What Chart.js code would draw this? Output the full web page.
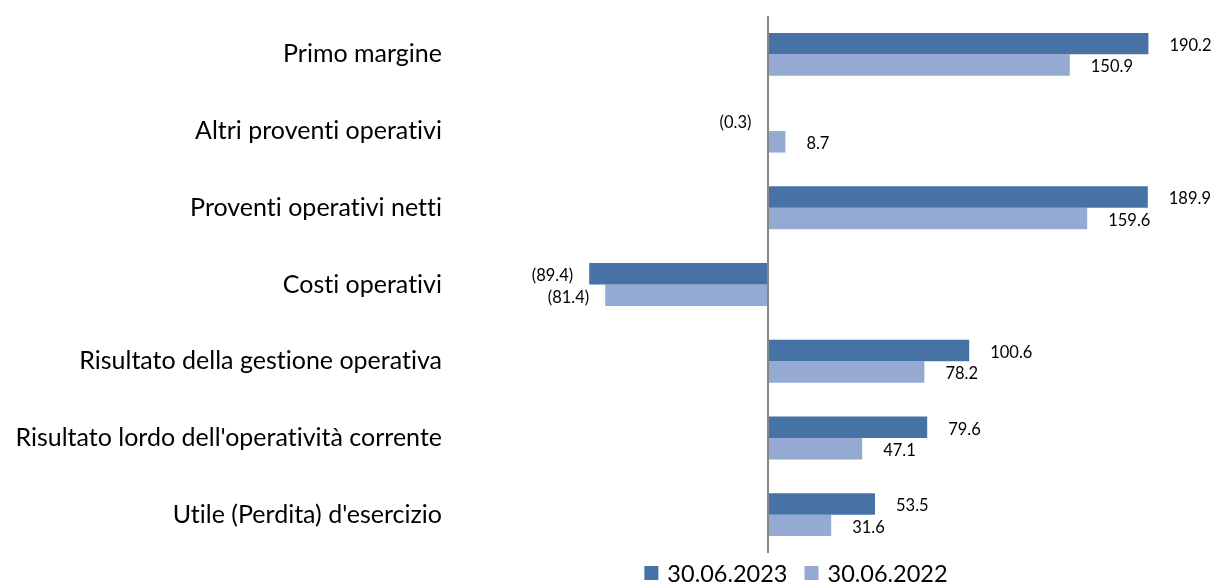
<!DOCTYPE html>
<html>
<head>
<meta charset="utf-8">
<script src="https://cdn.jsdelivr.net/npm/chart.js@4.4.1/dist/chart.umd.min.js"></script>
<style>
  html, body { margin: 0; padding: 0; background: #ffffff; }
  #wrap { width: 1214px; height: 583px; position: relative; }
  canvas { font-variant-ligatures: none; }
</style>
</head>
<body>
<div id="wrap"><canvas id="c" width="1214" height="583"></canvas></div>
<script>
const categories = [
  'Primo margine',
  'Altri proventi operativi',
  'Proventi operativi netti',
  'Costi operativi',
  'Risultato della gestione operativa',
  "Risultato lordo dell'operatività corrente",
  "Utile (Perdita) d'esercizio"
];
const seriesNames = ['30.06.2023', '30.06.2022'];
const values2023 = [190.2, -0.3, 189.9, -89.4, 100.6, 79.6, 53.5];
const values2022 = [150.9, 8.7, 159.6, -81.4, 78.2, 47.1, 31.6];

const COLOR_2023 = '#4672A6';
const COLOR_2022 = '#95AAD2';
const FONT = 'Lato, "Open Sans", "DejaVu Sans", sans-serif';

function fmt(v) {
  const s = Math.abs(v).toFixed(1);
  return v < 0 ? '(' + s + ')' : s;
}

const noLigaturePlugin = {
  id: 'noLigatures',
  beforeDraw(chart) {
    const ctx = chart.ctx;
    if ('textRendering' in ctx) ctx.textRendering = 'optimizeSpeed';
  }
};

const zeroLinePlugin = {
  id: 'zeroLine',
  afterDatasetsDraw(chart) {
    const ctx = chart.ctx;
    const x = chart.scales.x.getPixelForValue(0);
    const a = chart.chartArea;
    ctx.save();
    ctx.strokeStyle = '#878787';
    ctx.lineWidth = 2;
    ctx.beginPath();
    ctx.moveTo(x, a.top);
    ctx.lineTo(x, a.bottom);
    ctx.stroke();
    ctx.restore();
  }
};

const valueLabelPlugin = {
  id: 'valueLabels',
  afterDatasetsDraw(chart) {
    const ctx = chart.ctx;
    ctx.save();
    ctx.font = '16.5px ' + FONT;
    ctx.fillStyle = '#000000';
    ctx.textBaseline = 'middle';
    chart.data.datasets.forEach((ds, di) => {
      const meta = chart.getDatasetMeta(di);
      meta.data.forEach((bar, i) => {
        const v = ds.data[i];
        const p = bar.getProps(['x', 'y'], true);
        if (v >= 0) {
          ctx.textAlign = 'left';
          ctx.fillText(fmt(v), p.x + 21, p.y + 2);
        } else {
          ctx.textAlign = 'right';
          ctx.fillText(fmt(v), p.x - 16, p.y + 2);
        }
      });
    });
    ctx.restore();
  }
};

const legendPlugin = {
  id: 'customLegend',
  afterDraw(chart) {
    const ctx = chart.ctx;
    ctx.save();
    ctx.font = '23.5px ' + FONT;
    ctx.textBaseline = 'middle';
    ctx.textAlign = 'left';
    const box = 14, gapBoxText = 9, gapItems = 17;
    const items = chart.data.datasets.map(ds => ({ label: ds.label, color: ds.backgroundColor, w: ctx.measureText(ds.label).width }));
    let total = 0;
    items.forEach((it, i) => { total += box + gapBoxText + it.w + (i < items.length - 1 ? gapItems : 0); });
    const cy = 573;
    let x = 796 - total / 2;
    items.forEach(it => {
      ctx.fillStyle = it.color;
      ctx.fillRect(x, cy - box / 2, box, box);
      x += box + gapBoxText;
      ctx.fillStyle = '#000000';
      ctx.fillText(it.label, x, cy + 1);
      x += it.w + gapItems;
    });
    ctx.restore();
  }
};

new Chart(document.getElementById('c'), {
  type: 'bar',
  data: {
    labels: categories,
    datasets: [
      { label: seriesNames[0], data: values2023, backgroundColor: COLOR_2023 },
      { label: seriesNames[1], data: values2022, backgroundColor: COLOR_2022 }
    ]
  },
  options: {
    indexAxis: 'y',
    responsive: false,
    animation: false,
    devicePixelRatio: 1,
    layout: { padding: { top: 16, bottom: 30, right: 46, left: 0 } },
    datasets: { bar: { categoryPercentage: 0.56, barPercentage: 1.0 } },
    plugins: {
      legend: { display: false },
      tooltip: { enabled: false }
    },
    scales: {
      x: {
        display: false,
        min: -163,
        max: 200
      },
      y: {
        afterFit(scale) {
          scale.width = 442;
          scale.paddingTop = 0;
          scale.paddingBottom = 0;
        },
        grid: { display: false, drawTicks: false },
        border: { display: false },
        ticks: {
          padding: 0,
          color: '#000000',
          font: { family: FONT, size: 25 }
        }
      }
    }
  },
  plugins: [noLigaturePlugin, zeroLinePlugin, valueLabelPlugin, legendPlugin]
});
</script>
</body>
</html>
